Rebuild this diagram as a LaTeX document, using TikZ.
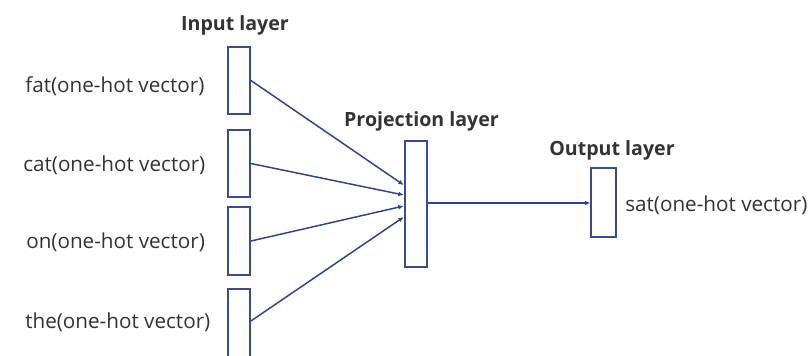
\documentclass[tikz,border=0pt]{standalone}
\usepackage{fontspec}
\setmainfont{Open Sans}
\usetikzlibrary{arrows.meta}
\definecolor{boxc}{HTML}{3A4C8A}
\definecolor{linec}{HTML}{2E4585}
\definecolor{txt}{HTML}{333333}
\begin{document}
\begin{tikzpicture}[x=0.75pt,y=-0.75pt,
  layerbox/.style={draw=boxc,line width=1.4pt,fill=white,inner sep=0pt},
  wordlabel/.style={anchor=west,text=txt,font=\fontsize{15.5}{17}\selectfont,inner sep=0pt},
  layerlabel/.style={text=txt,font=\fontsize{14.7}{16}\selectfont\bfseries,inner sep=0pt},
  conn/.style={draw=linec,line width=1.1pt,-{Latex[length=4pt,width=3.5pt]}}]
\clip (0,0) rectangle (812,355);
\fill[white] (0,0) rectangle (812,355);
% input boxes
\node[layerbox,minimum width=16.5pt,minimum height=50pt] (i1) at (239,80.5) {};
\node[layerbox,minimum width=16.5pt,minimum height=50pt] (i2) at (239,163.5) {};
\node[layerbox,minimum width=16.5pt,minimum height=50.5pt] (i3) at (239,241) {};
\node[layerbox,minimum width=16.5pt,minimum height=54pt] (i4) at (239,325) {};
% projection & output
\node[layerbox,minimum width=17pt,minimum height=94pt] (p) at (416,204) {};
\node[layerbox,minimum width=18.5pt,minimum height=52pt] (o) at (603.5,202.5) {};
% labels
\node[layerlabel] (li) at (235,25) {Input layer};
\node[layerlabel] (lp) at (421.5,121) {Projection layer};
\node[layerlabel] (lo) at (612,150) {Output layer};
\node[wordlabel] (w1) at (25,86) {fat(one-hot vector)};
\node[wordlabel] (w2) at (23,165) {cat(one-hot vector)};
\node[wordlabel] (w3) at (26,242) {on(one-hot vector)};
\node[wordlabel] (w4) at (25,322) {the(one-hot vector)};
\node[wordlabel] (w5) at (625,205) {sat(one-hot vector)};
% connectors
\draw[conn] (i1.east) -- (p.west |- 0,185);
\draw[conn] (i2.east) -- (p.west |- 0,195);
\draw[conn] (i3.east) -- (p.west |- 0,206);
\draw[conn] ([yshift=3pt]i4.east) -- (p.west |- 0,217);
\draw[conn] (p.east |- 0,203) -- (o.west |- 0,203);
\end{tikzpicture}
\end{document}
